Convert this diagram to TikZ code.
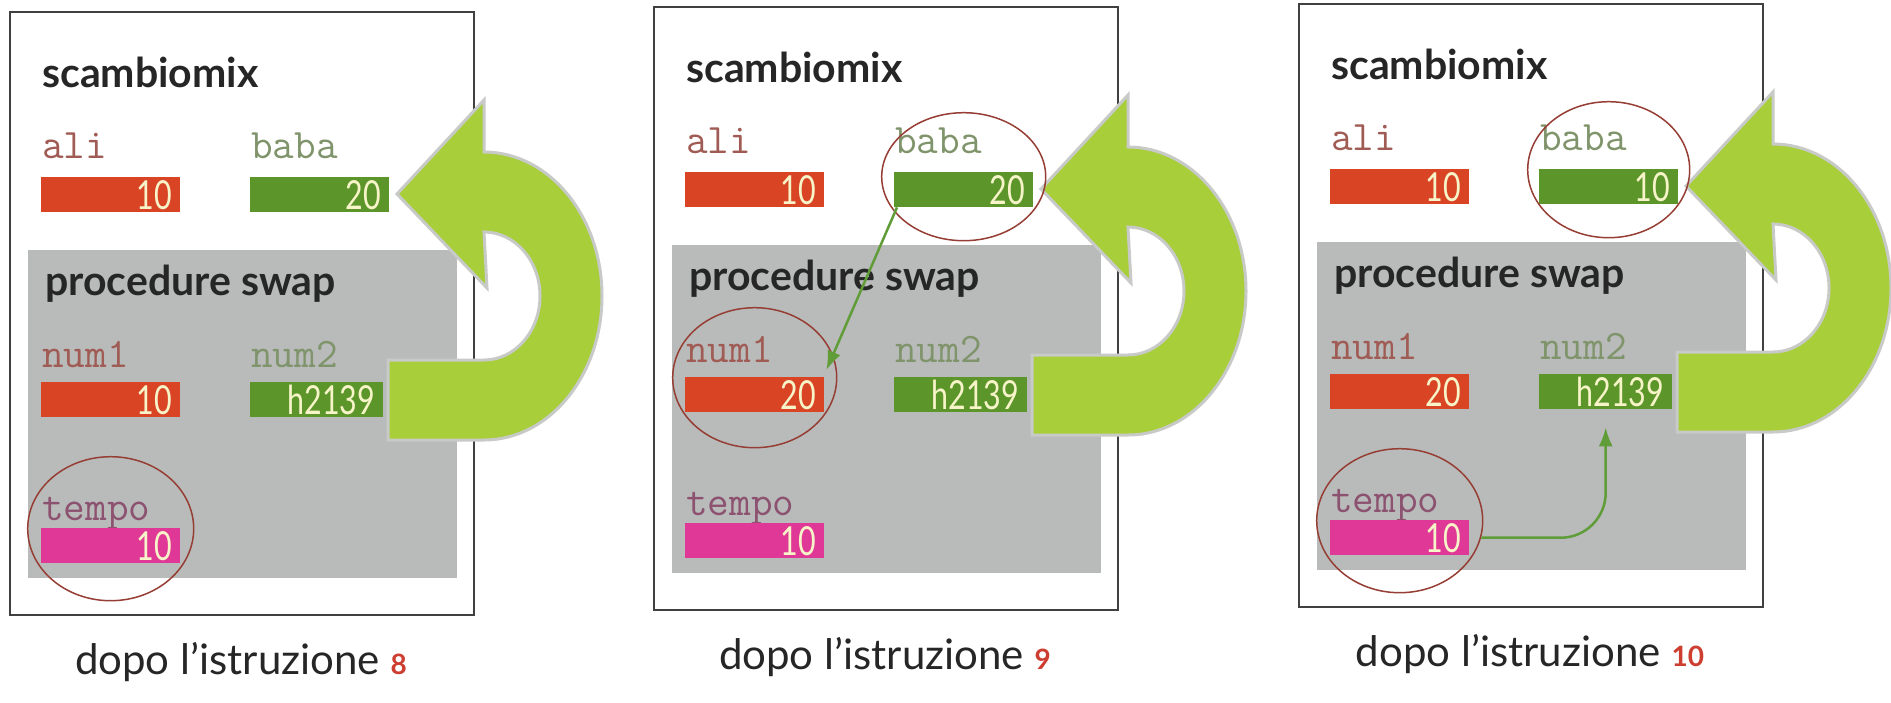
\documentclass[tikz,border=0pt]{standalone}
\usepackage{fontspec}
\setmainfont{Lato}
\newfontfamily\valfont[FakeStretch=0.76]{Lato}
\usetikzlibrary{arrows.meta}

\definecolor{alired}{RGB}{216,68,36}
\definecolor{babagreen}{RGB}{92,150,42}
\definecolor{tempopink}{RGB}{224,56,150}
\definecolor{valtext}{RGB}{246,244,200}
\definecolor{alilab}{RGB}{160,92,84}
\definecolor{babalab}{RGB}{128,148,108}
\definecolor{tempolab}{RGB}{140,82,112}
\definecolor{procgray}{RGB}{184,187,186}
\definecolor{lime}{RGB}{168,206,58}
\definecolor{limeedge}{RGB}{200,202,200}
\definecolor{linkgreen}{RGB}{96,156,56}
\definecolor{ringred}{RGB}{150,62,52}
\definecolor{stepred}{RGB}{206,62,48}

\tikzset{
  paneframe/.style={draw=black!75, line width=2},
  headtxt/.style={font=\fontsize{41}{41}\selectfont\bfseries, text=black!85, inner sep=0, anchor=base west},
  varlbl/.style={font=\fontsize{42}{42}\selectfont\ttfamily, inner sep=0, anchor=base west},
  valbox/.style={font=\valfont\fontsize{40}{40}\selectfont, text=valtext, anchor=north west,
    minimum height=35, inner xsep=8, inner ysep=0, text width=123, align=right},
  captxt/.style={font=\fontsize{42}{42}\selectfont, text=black!85, inner sep=0, anchor=base},
  bigarrow/.style={fill=lime, draw=limeedge, line width=3, line join=miter},
  ring/.style={draw=ringred, line width=1.5},
  link/.style={draw=linkgreen, line width=2.5, -{Latex[length=19, width=14]}}
}

\newcommand{\swappanel}[9]{%
  \begin{scope}[shift={(#2,#3)}]
    \draw[paneframe] (0,0) rectangle (464,603);
    \fill[procgray] (18,238) rectangle (447,566);
    \node[headtxt] (#1main) at (32,75) {scambiomix};
    \node[varlbl, text=alilab] (#1alilbl) at (32,146) {ali};
    \node[varlbl, text=babalab] (#1babalbl) at (241,146) {baba};
    \node[valbox, fill=alired] (#1ali) at (31,165) {#4};
    \node[valbox, fill=babagreen] (#1baba) at (240,165) {#5};
    \node[headtxt] (#1proc) at (35,283) {procedure swap};
    \node[varlbl, text=alilab] (#1num1lbl) at (32,355) {num1};
    \node[varlbl, text=babalab] (#1num2lbl) at (241,355) {num2};
    \node[valbox, fill=alired] (#1num1) at (31,370) {#6};
    \node[valbox, fill=babagreen, text width=117] (#1num2) at (240,370) {#7};
    \node[varlbl, text=tempolab] (#1tempolbl) at (32,508) {tempo};
    \node[valbox, fill=tempopink] (#1tempo) at (31,516) {#8};
    \filldraw[bigarrow] (387,182) -- (474,88) -- (474,140)
      arc[start angle=-90, end angle=90, x radius=118, y radius=144]
      -- (378,428) -- (378,348) -- (474,348)
      arc[start angle=90, end angle=-90, x radius=56, y radius=64]
      -- (477,276) -- cycle;
    \node[captxt] (#1cap) at (231,662) {dopo l’istruzione \textcolor{stepred}{\fontsize{28}{28}\selectfont\bfseries #9}};
  \end{scope}}

\begin{document}
\begin{tikzpicture}[x=1pt, y=-1pt]
  \fill[white] (0,0) rectangle (1891,702);
  \useasboundingbox (0,0) rectangle (1891,702);

  \swappanel{pa}{10}{12}{10}{20}{10}{h2139}{10}{8}
  \swappanel{pb}{654}{7}{10}{20}{20}{h2139}{10}{9}
  \swappanel{pc}{1299}{4}{10}{10}{20}{h2139}{10}{10}

  \draw[ring] ([yshift=17pt]patempo.center) ellipse [x radius=83, y radius=72];

  \draw[ring] ([yshift=13pt]pbbaba.center) ellipse [x radius=82, y radius=64];
  \draw[ring] ([yshift=17pt]pbnum1.center) ellipse [x radius=82, y radius=70];
  \draw[link] ([xshift=3pt]pbbaba.south west) -- ([shift={(2pt,7pt)}]pbnum1.north east);

  \draw[ring] ([yshift=17pt]pcbaba.center) ellipse [x radius=81, y radius=68];
  \draw[ring] ([yshift=17pt]pctempo.center) ellipse [x radius=83, y radius=72];
  \draw[link, rounded corners=45] ([xshift=12pt]pctempo.east) -| ([yshift=-18pt]pcnum2.south);
\end{tikzpicture}
\end{document}
